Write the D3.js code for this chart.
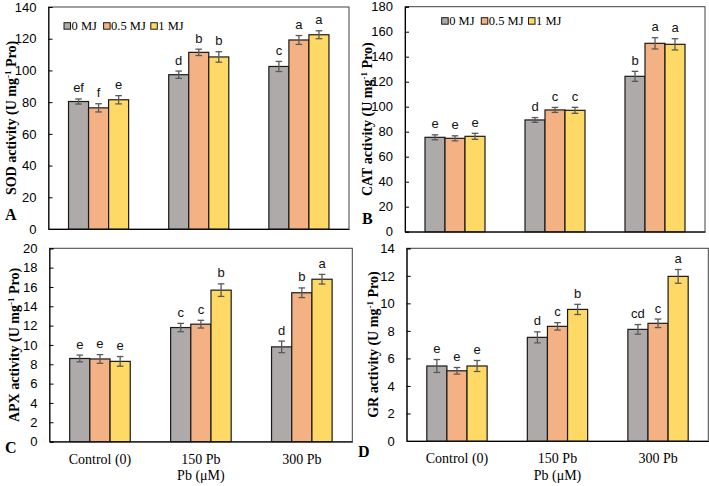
<!DOCTYPE html>
<html><head><meta charset="utf-8">
<script src="https://cdn.jsdelivr.net/npm/d3@7/dist/d3.min.js"></script>
<style>
body{margin:0;background:#fff;}
svg{display:block;}
</style></head>
<body>
<svg id="chart" width="709" height="486"></svg>
<script>
const categories = ["Control (0)", "150 Pb", "300 Pb"];
const seriesNames = ["0 MJ", "0.5 MJ", "1 MJ"];
const colors = ["#aeaaaa", "#f4b183", "#ffd966"];

// SOD
const sod0 = [80.4, 97.3, 102.5], sod05 = [76.4, 111.4, 119.2], sod1 = [81.5, 108.5, 122.5];
const sodErr0 = [1.6, 2.3, 3.2], sodErr05 = [2.6, 2.0, 2.8], sodErr1 = [2.6, 3.3, 2.5];
const sodLet0 = ["ef", "d", "c"], sodLet05 = ["f", "b", "a"], sodLet1 = ["e", "b", "a"];
const sodTicks = [0, 20, 40, 60, 80, 100, 120, 140];
// CAT
const cat0 = [75.5, 89.4, 124.3], cat05 = [74.7, 97.4, 150.7], cat1 = [76.3, 97.1, 149.9];
const catErr0 = [2.0, 1.9, 4.0], catErr05 = [2.0, 2.0, 4.5], catErr1 = [2.4, 2.4, 4.5];
const catLet0 = ["e", "d", "b"], catLet05 = ["e", "c", "a"], catLet1 = ["e", "c", "a"];
const catTicks = [0, 20, 40, 60, 80, 100, 120, 140, 160, 180];
// APX
const apx0 = [8.6, 11.8, 9.8], apx05 = [8.55, 12.15, 15.4], apx1 = [8.3, 15.67, 16.8];
const apxErr0 = [0.35, 0.43, 0.6], apxErr05 = [0.45, 0.4, 0.5], apxErr1 = [0.5, 0.65, 0.5];
const apxLet0 = ["e", "c", "d"], apxLet05 = ["e", "c", "b"], apxLet1 = ["e", "b", "a"];
const apxTicks = [0, 2, 4, 6, 8, 10, 12, 14, 16, 18, 20];
// GR
const gr0 = [5.45, 7.53, 8.11], gr05 = [5.1, 8.33, 8.55], gr1 = [5.45, 9.56, 11.96];
const grErr0 = [0.47, 0.4, 0.35], grErr05 = [0.24, 0.27, 0.31], grErr1 = [0.4, 0.37, 0.5];
const grLet0 = ["e", "d", "cd"], grLet05 = ["e", "c", "c"], grLet1 = ["e", "b", "a"];
const grTicks = [0, 2, 4, 6, 8, 10, 12, 14];

const panels = [
  {name:"SOD", vals:[sod0,sod05,sod1], errs:[sodErr0,sodErr05,sodErr1], lets:[sodLet0,sodLet05,sodLet1], ticks:sodTicks,
   box:{l:48.5,t:7,r:349,b:229}, letter:"A", letterPos:[5,220], titleX:16, legend:[64,26], xlabels:false},
  {name:"CAT", vals:[cat0,cat05,cat1], errs:[catErr0,catErr05,catErr1], lets:[catLet0,catLet05,catLet1], ticks:catTicks,
   box:{l:405,t:6.7,r:705,b:231.7}, letter:"B", letterPos:[362,224], titleX:372, legend:[441.7,21], xlabels:false},
  {name:"APX", vals:[apx0,apx05,apx1], errs:[apxErr0,apxErr05,apxErr1], lets:[apxLet0,apxLet05,apxLet1], ticks:apxTicks,
   box:{l:49.5,t:248.3,r:352.3,b:441.6}, letter:"C", letterPos:[5,453], titleX:18.5, legend:null, xlabels:true},
  {name:"GR", vals:[gr0,gr05,gr1], errs:[grErr0,grErr05,grErr1], lets:[grLet0,grLet05,grLet1], ticks:grTicks,
   box:{l:406.7,t:248.3,r:708.3,b:441}, letter:"D", letterPos:[358,457], titleX:378, legend:null, xlabels:true}
];

const svg = d3.select("#chart");
const sans = "'Liberation Sans', Arial, sans-serif";
const serif = "'Liberation Serif', 'Times New Roman', serif";

panels.forEach(p => {
  const B = p.box;
  const g = svg.append("g");
  const x = d3.scaleBand().domain(categories).range([B.l, B.r]).paddingInner(0.4).paddingOuter(0.2);
  const xs = d3.scaleBand().domain(d3.range(3)).range([0, x.bandwidth()]).padding(0);
  const ticks = p.ticks;
  const y = d3.scaleLinear().domain([0, ticks[ticks.length-1]]).range([B.b, B.t]);

  // frame
  g.append("rect").attr("x", B.l).attr("y", B.t).attr("width", B.r-B.l).attr("height", B.b-B.t)
    .attr("fill", "none").attr("stroke", "#404040").attr("stroke-width", 1);

  // y axis
  const ya = g.append("g").attr("transform", `translate(${B.l},0)`)
    .call(d3.axisLeft(y).tickValues(ticks).tickSize(-4).tickPadding(12).tickFormat(d3.format("d")));
  ya.select(".domain").attr("stroke", "#000");
  ya.selectAll(".tick line").attr("stroke", "#000");
  ya.selectAll(".tick text").attr("font-family", sans).attr("font-size", 13).attr("fill", "#000");

  // x axis baseline
  const xa = g.append("g").attr("transform", `translate(0,${B.b})`)
    .call(d3.axisBottom(x).tickSize(0).tickPadding(12));
  xa.select(".domain").attr("stroke", "#000");
  xa.selectAll(".tick text").attr("font-family", serif).attr("font-size", 14).attr("fill", "#000")
    .style("display", p.xlabels ? null : "none");

  // bars
  p.vals.forEach((vals, si) => {
    const grp = g.append("g");
    categories.forEach((c, ci) => {
      const v = vals[ci], e = p.errs[si][ci];
      const bx = x(c) + xs(si), bw = xs.bandwidth();
      grp.append("rect").attr("x", bx).attr("y", y(v)).attr("width", bw).attr("height", y(0)-y(v))
        .attr("fill", colors[si]).attr("stroke", "#1a1a1a").attr("stroke-width", 1.2);
      const cx = bx + bw/2;
      const eg = grp.append("g").attr("stroke", "#595959").attr("stroke-width", 1.3);
      eg.append("line").attr("x1", cx).attr("x2", cx).attr("y1", y(v+e)).attr("y2", y(v-e));
      eg.append("line").attr("x1", cx-3.3).attr("x2", cx+3.3).attr("y1", y(v+e)).attr("y2", y(v+e));
      eg.append("line").attr("x1", cx-3.3).attr("x2", cx+3.3).attr("y1", y(v-e)).attr("y2", y(v-e));
      grp.append("text").attr("x", cx).attr("y", y(v+e) - 6.5).attr("text-anchor", "middle")
        .attr("font-family", sans).attr("font-size", 13).attr("fill", "#111").text(p.lets[si][ci]);
    });
  });

  // y title
  const tcY = (B.t + B.b) / 2;
  const t = g.append("text").attr("transform", `translate(${p.titleX},${tcY}) rotate(-90)`)
    .attr("text-anchor", "middle").attr("font-family", serif).attr("font-weight", "bold")
    .attr("font-size", 14).attr("fill", "#000");
  t.append("tspan").text(p.name + " activity (U mg");
  t.append("tspan").attr("font-size", 9).attr("dy", -5).text("-1");
  t.append("tspan").attr("dy", 5).text(" Pro)");

  // panel letter
  g.append("text").attr("x", p.letterPos[0]).attr("y", p.letterPos[1]).attr("font-family", serif)
    .attr("font-weight", "bold").attr("font-size", 16).attr("fill", "#000").text(p.letter);

  // legend
  if (p.legend) {
    const offs = [0, 39.6, 86.8];
    seriesNames.forEach((s, si) => {
      const lx = p.legend[0] + offs[si], ly = p.legend[1];
      g.append("rect").attr("x", lx).attr("y", ly-3.3).attr("width", 6.5).attr("height", 6.5)
        .attr("fill", colors[si]).attr("stroke", "#1a1a1a").attr("stroke-width", 1);
      g.append("text").attr("x", lx+7.5).attr("y", ly+4.3).attr("font-family", serif)
        .attr("font-size", 12.5).attr("fill", "#000").text(s);
    });
  }

  // x title
  if (p.xlabels) {
    g.append("text").attr("x", (B.l+B.r)/2).attr("y", 480).attr("text-anchor", "middle")
      .attr("font-family", serif).attr("font-size", 14).attr("fill", "#000").text("Pb (μM)");
  }
});
</script>
</body></html>
